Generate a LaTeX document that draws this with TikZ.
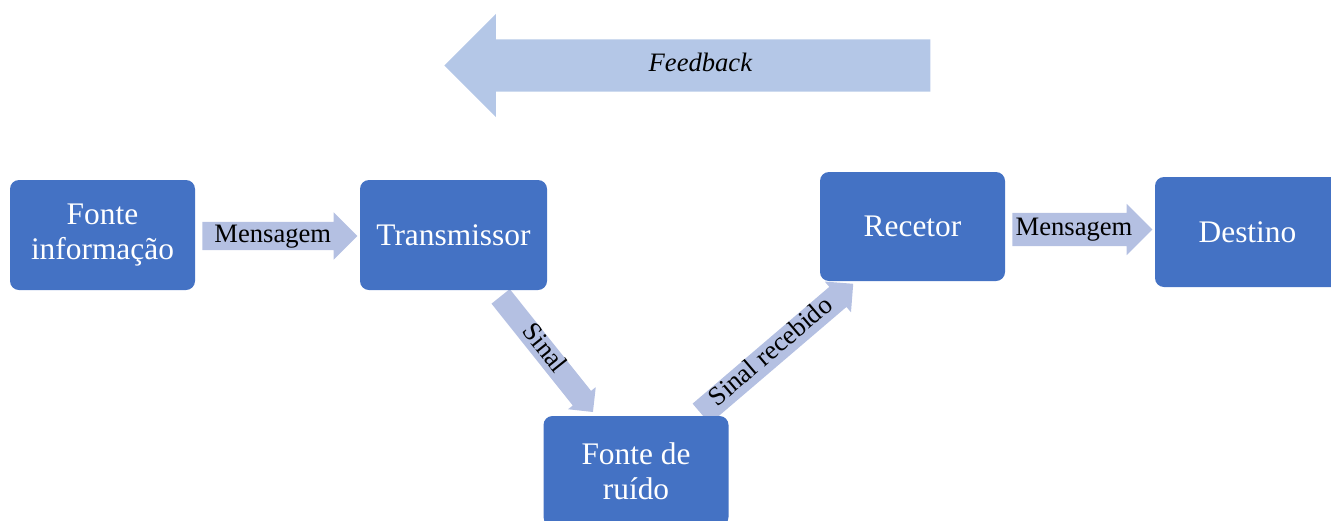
\documentclass[tikz,border=0pt]{standalone}
\usepackage{fontspec}
\setmainfont{Liberation Serif}
\usetikzlibrary{shapes.arrows,backgrounds,calc}
\definecolor{boxblue}{RGB}{68,114,196}
\definecolor{arrowblue}{RGB}{180,192,226}
\definecolor{feedblue}{RGB}{180,199,231}
\tikzset{
  stage/.style={fill=boxblue,rounded corners=9pt,text=white,minimum width=185pt,minimum height=110pt,
    align=center,font=\fontsize{31.4}{35}\selectfont},
  flow/.style n args={3}{single arrow,fill=arrowblue,minimum width=0pt,minimum height=#1,inner xsep=0pt,
    inner ysep=#2,single arrow head extend=#3,text height=14pt,text depth=2pt,font=\fontsize{26.6}{30}\selectfont}
}
\begin{document}
\begin{tikzpicture}[x=1pt,y=-1pt]
\useasboundingbox(0,0)rectangle(1331,520);
\clip(0,0)rectangle(1331,520);
% the stages
\node[stage](fonte)at(102.5,235){Fonte\\informação};
\node[stage,minimum width=187pt](trans)at(453.5,235){Transmissor};
\node[stage](ruido)at(636,471){Fonte de\\ruído};
\node[stage,minimum height=109pt](recetor)at(912.5,226.5){Recetor};
\node[stage](destino)at(1247.5,232){Destino};
% block arrows behind the stages
\begin{scope}[on background layer]
\node[flow={155pt}{6pt}{9.5pt},anchor=tail](msg1)at($(fonte.east)+(7,1)$){Mensagem};
\node[flow={148pt}{3.5pt}{6pt},rotate=-51.4,anchor=tail](sinal)at($(trans.south)+(47,6)$){Sinal};
\node[flow={200pt}{5pt}{7pt},rotate=40.5,anchor=tail](recebido)at($(ruido.north)+(65,-2)$){Sinal recebido};
\node[flow={140pt}{8.5pt}{9pt},anchor=tail](msg2)at($(recetor.east)+(7,3)$){Mensagem};
\node[flow={486pt}{18pt}{25.5pt},fill=feedblue,shape border rotate=180,anchor=tip,
  font=\fontsize{26.6}{30}\selectfont\itshape](feedback)at(444,65.5){Feedback};
\end{scope}
\end{tikzpicture}
\end{document}
